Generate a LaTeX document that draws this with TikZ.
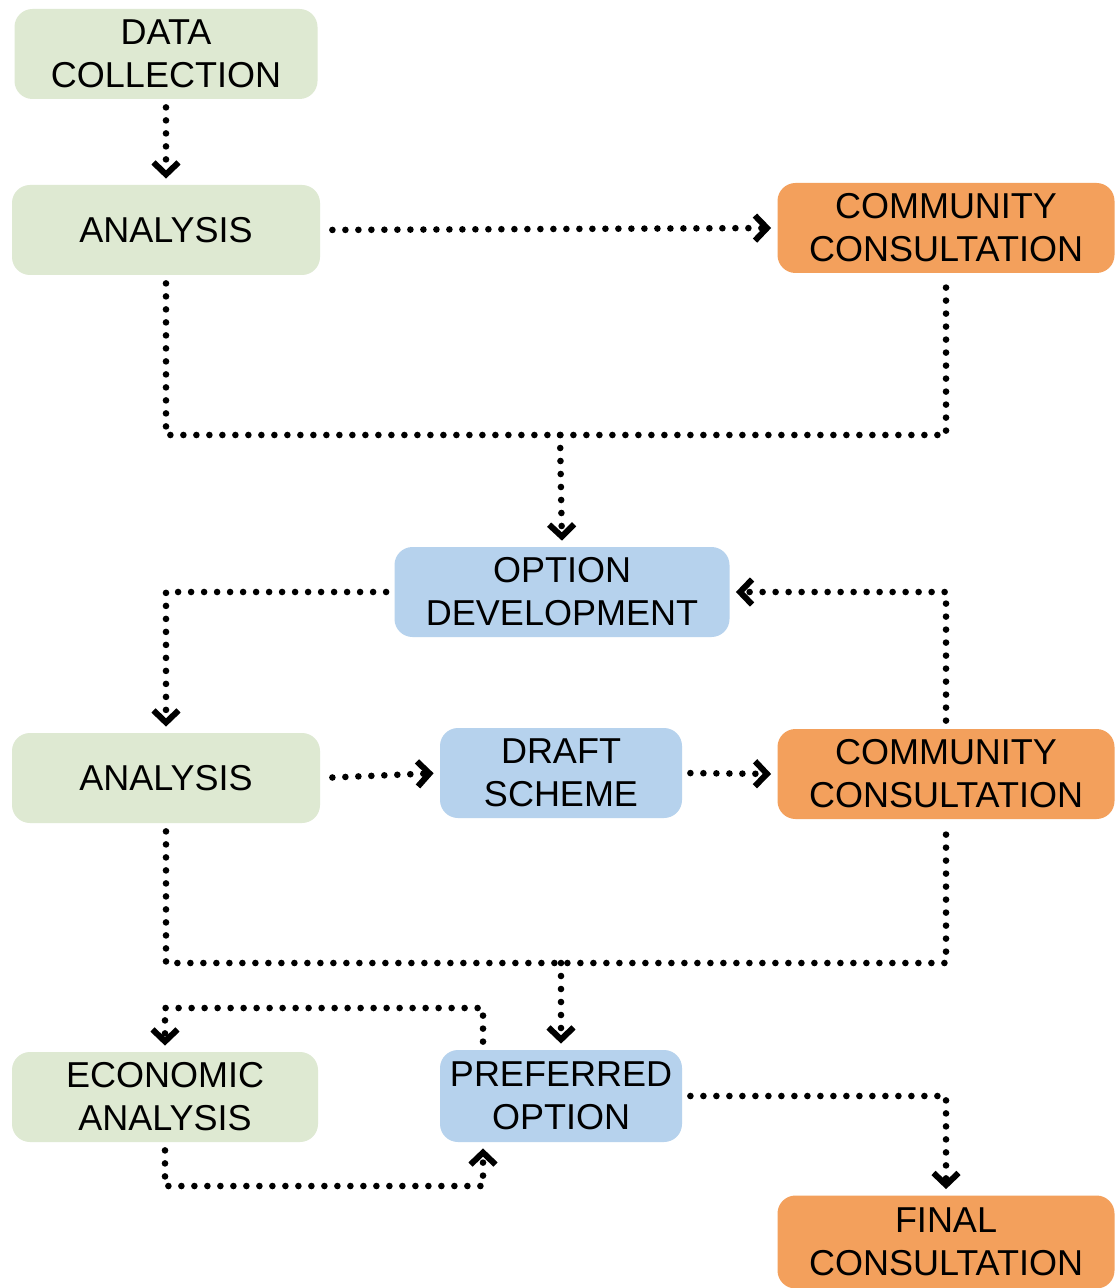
\documentclass[tikz,border=0pt]{standalone}
\usepackage{fontspec}
\setmainfont{Liberation Sans}
\usetikzlibrary{arrows.meta, positioning}

\begin{document}
\begin{tikzpicture}[x=0.5pt, y=-0.5pt,
    >={Straight Barb[length=6pt, width=12.5pt, line width=3pt]},
    every node/.style={align=center, font=\fontsize{18}{21.5}\selectfont},
    stage/.style={rounded corners=9pt, minimum height=45pt, inner sep=0pt},
    greenbox/.style={stage, fill=stagegreen, minimum width=154pt},
    bluebox/.style={stage, fill=stageblue, minimum width=121pt},
    orangebox/.style={stage, fill=stageorange, minimum width=168.5pt},
    flow/.style={line width=3.3pt, line cap=round, dash pattern=on 0pt off 6.5pt, shorten <=4pt, shorten >=3pt}]
  \definecolor{stagegreen}{RGB}{222,233,210}
  \definecolor{stageblue}{RGB}{182,210,237}
  \definecolor{stageorange}{RGB}{243,160,92}
  \useasboundingbox[fill=white] (0,0) rectangle (1115,1288);

  % stages
  \node[greenbox, minimum width=151.5pt] (datacoll) at (166,54) {DATA\\COLLECTION};
  \node[greenbox] (analysisA) at (166,230) {ANALYSIS};
  \node[orangebox] (consultA) at (946,228) {COMMUNITY\\CONSULTATION};
  \node[bluebox, minimum width=167.5pt] (optdev) at (562,592) {OPTION\\DEVELOPMENT};
  \node[greenbox] (analysisB) at (166,778) {ANALYSIS};
  \node[bluebox] (draft) at (561,773) {DRAFT\\SCHEME};
  \node[orangebox] (consultB) at (946,774) {COMMUNITY\\CONSULTATION};
  \node[greenbox, minimum width=153pt] (econ) at (165,1097) {ECONOMIC\\ANALYSIS};
  \node[bluebox, minimum height=46pt] (preferred) at (561,1096) {PREFERRED\\OPTION};
  \node[orangebox, minimum height=46.5pt] (final) at (946,1242) {FINAL\\CONSULTATION};

  % junction points
  \coordinate (mergeA) at (560,435);
  \coordinate (mergeB) at (561,963);
  \coordinate (loopTop) at (483,1008);
  \coordinate (loopBot) at (483,1186);

  % connectors
  \draw[flow, ->] (datacoll.south) -- (analysisA.north);
  \draw[flow, ->, shorten <=6pt] (analysisA.east) -- (consultA.west);
  \draw[flow] (analysisA.south) -- (analysisA.south |- mergeA) -- (consultA.south |- mergeA) -- (consultA.south);
  \draw[flow, ->, shorten <=0pt] (mergeA) -- (optdev.north);
  \draw[flow, ->] (optdev.west) -| (analysisB.north);
  \draw[flow, ->] (consultB.north) |- (optdev.east);
  \draw[flow, ->, shorten <=6pt] (analysisB.east) -- (draft.west);
  \draw[flow, ->] (draft.east) -- (consultB.west);
  \draw[flow] (analysisB.south) -- (analysisB.south |- mergeB) -- (consultB.south |- mergeB) -- (consultB.south);
  \draw[flow, ->, shorten <=0pt] (mergeB) -- (preferred.north);
  \draw[flow, ->] (loopTop |- preferred.north) -- (loopTop) -| (econ.north);
  \draw[flow, ->] (econ.south) |- (loopBot) -- (loopBot |- preferred.south);
  \draw[flow, ->] (preferred.east) -| (final.north);
\end{tikzpicture}
\end{document}
